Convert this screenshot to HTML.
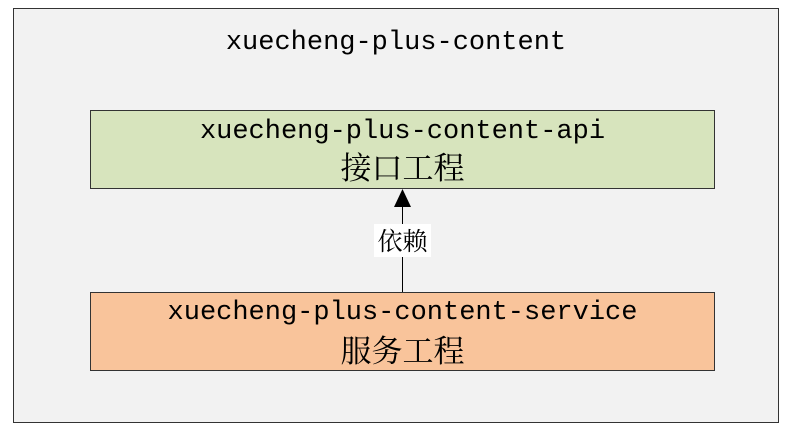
<!DOCTYPE html>
<html><head><meta charset="utf-8"><style>
html,body{margin:0;padding:0;background:#fff;width:796px;height:439px;overflow:hidden;position:relative}
.abs{position:absolute}
.lat{font-family:"Liberation Mono",monospace;font-size:27px;color:#000;white-space:nowrap;text-align:center}
.cjk{font-family:"Noto Serif CJK SC","Noto Sans CJK SC",serif;font-size:31px;color:#000;white-space:nowrap;text-align:center}
</style></head><body>
<div class="abs" style="left:13px;top:8px;width:764px;height:413px;background:#f2f2f2;border:1px solid #333"></div>
<div class="abs lat" style="left:13px;width:766px;top:26px;line-height:34px">xuecheng-plus-content</div>
<div class="abs" style="left:90px;top:110px;width:623px;height:77px;background:#d7e4bd;border:1px solid #333"></div>
<div class="abs lat" style="left:90px;width:625px;top:115px;line-height:34px">xuecheng-plus-content-api</div>
<div class="abs cjk" style="left:90px;width:625px;top:148px;line-height:36px">接口工程</div>
<div class="abs" style="left:90px;top:292px;width:623px;height:77px;background:#f9c49b;border:1px solid #333"></div>
<div class="abs lat" style="left:90px;width:625px;top:296px;line-height:34px">xuecheng-plus-content-service</div>
<div class="abs cjk" style="left:90px;width:625px;top:331px;line-height:36px">服务工程</div>
<svg class="abs" style="left:0;top:0" width="796" height="439">
<line x1="402.5" y1="292" x2="402.5" y2="205" stroke="#000" stroke-width="1"/>
<polygon points="402.5,189 394,207 411,207" fill="#000"/>
</svg>
<div class="abs" style="left:374px;top:224px;width:57px;height:33px;background:#fff"></div>
<div class="abs cjk" style="left:370px;width:65px;top:223px;line-height:34px;font-size:25px">依赖</div>
</body></html>
